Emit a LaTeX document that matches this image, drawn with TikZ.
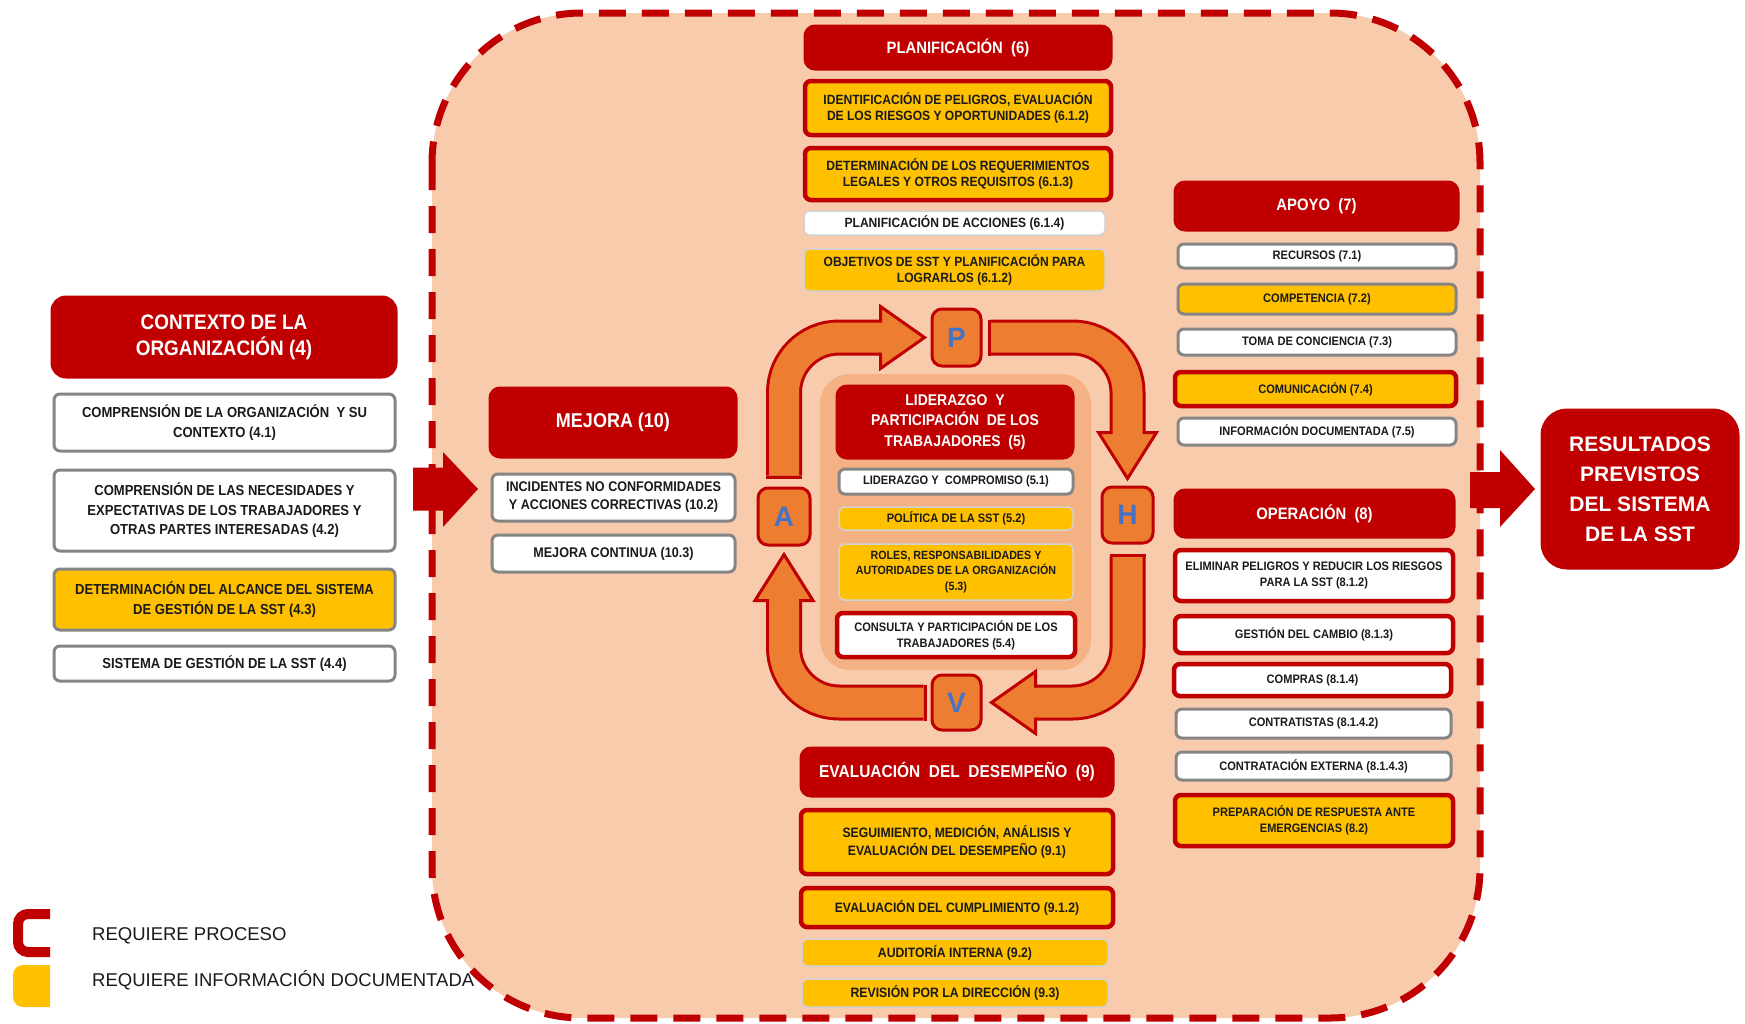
\documentclass[tikz,border=0pt]{standalone}
\usepackage{fontspec}
\setmainfont{Liberation Sans}
\newfontfamily\cnd[FakeStretch=0.9]{Liberation Sans}
\usetikzlibrary{calc}
\definecolor{cR}{HTML}{C00000}
\definecolor{cY}{HTML}{FFC000}
\definecolor{cO}{HTML}{ED7D31}
\definecolor{cPeach}{HTML}{F8CBAD}
\definecolor{cIn}{HTML}{F4B183}
\definecolor{cGrey}{HTML}{858585}
\definecolor{cLight}{HTML}{D2D2D2}
\definecolor{cBlue}{HTML}{4472C4}
\definecolor{cText}{HTML}{1A1A1A}
\newcommand\fs[2]{\fontsize{#1}{#2}\selectfont}
\newcommand\mybox[7]{\node[#2, minimum width={#5-#3-4}, minimum height={#6-#4-4}] (#1) at ({(#3+#5)/2},{(#4+#6)/2}) {#7};}
\tikzset{
  base/.style={rectangle, rounded corners=6pt, align=center, inner sep=0pt, text=cText, line width=3pt},
  hdr/.style={base, fill=cR, draw=cR, text=white, rounded corners=10pt},
  wg/.style={base, fill=white, draw=cGrey},
  yg/.style={base, fill=cY, draw=cGrey},
  wr/.style={base, fill=white, draw=cR, line width=4.5pt},
  yr/.style={base, fill=cY, draw=cR, line width=4.5pt},
  wl/.style={base, fill=white, draw=cLight, line width=1.5pt},
  yl/.style={base, fill=cY, draw=cLight, line width=1.5pt},
  pd/.style={base, fill=cO, draw=cR, line width=3pt, rounded corners=10pt, text=cBlue, font=\bfseries\fs{28}{30}},
  area/.style={rectangle, fill=cIn, rounded corners=30pt, inner sep=0pt},
  cyc/.style={draw=cR, line width=3pt, double=cO, double distance=30pt, rounded corners=55pt},
  hd/.style={fill=cO, draw=cR, line width=3pt, line join=miter},
  bigarrow/.style={fill=cR},
  fA/.style={font=\cnd\bfseries\fs{12.3}{16}},
  fB/.style={font=\cnd\bfseries\fs{13.4}{16.5}},
  fC/.style={font=\cnd\bfseries\fs{14.5}{19.5}},
  fM/.style={font=\cnd\bfseries\fs{14}{18}},
  fE/.style={font=\cnd\bfseries\fs{13.6}{18}},
  legend/.style={anchor=base west, inner sep=0pt, text=cText, font=\fs{18.5}{22}}
}
\begin{document}
\begin{tikzpicture}[x=1pt,y=-1pt]
\useasboundingbox (0,0) rectangle (1745,1023);
\fill[white] (0,0) rectangle (1745,1023);

% container
\draw[cR, fill=cPeach, line width=7pt, dash pattern=on 27pt off 16pt, rounded corners=150pt] (432,13) rectangle (1480,1018);

% left column: contexto
\mybox{ctx}{hdr, rounded corners=14pt, font=\cnd\bfseries\fs{21}{26}}{50}{295}{398}{379}{CONTEXTO DE LA\\ORGANIZACIÓN (4)}
\mybox{c41}{wg, fC}{52}{392}{397}{453}{COMPRENSIÓN DE LA ORGANIZACIÓN \ Y SU\\CONTEXTO (4.1)}
\mybox{c42}{wg, fC}{52}{468}{397}{553}{COMPRENSIÓN DE LAS NECESIDADES Y\\EXPECTATIVAS DE LOS TRABAJADORES Y\\OTRAS PARTES INTERESADAS (4.2)}
\mybox{c43}{yg, fC}{52}{567}{397}{632}{DETERMINACIÓN DEL ALCANCE DEL SISTEMA\\DE GESTIÓN DE LA SST (4.3)}
\mybox{c44}{wg, fC}{52}{644}{397}{683}{SISTEMA DE GESTIÓN DE LA SST (4.4)}

% mejora
\mybox{mej}{hdr, font=\cnd\bfseries\fs{20}{24}}{488}{386}{738}{459}{MEJORA (10)}
\mybox{m102}{wg, fM}{490}{472}{737}{523}{INCIDENTES NO CONFORMIDADES\\Y ACCIONES CORRECTIVAS (10.2)}
\mybox{m103}{wg, fM}{490}{533}{737}{574}{MEJORA CONTINUA (10.3)}

% planificacion
\mybox{pla}{hdr, font=\cnd\bfseries\fs{16.5}{20}}{803}{24}{1113}{71}{PLANIFICACIÓN \ (6)}
\mybox{p612}{yr, fB}{803}{79}{1113}{137}{IDENTIFICACIÓN DE PELIGROS, EVALUACIÓN\\DE LOS RIESGOS Y OPORTUNIDADES (6.1.2)}
\mybox{p613}{yr, fB}{803}{146}{1113}{202}{DETERMINACIÓN DE LOS REQUERIMIENTOS\\LEGALES Y OTROS REQUISITOS (6.1.3)}
\mybox{p614}{wl, fB}{802}{209}{1107}{237}{PLANIFICACIÓN DE ACCIONES (6.1.4)}
\mybox{pobj}{yl, fB}{802}{247}{1107}{293}{OBJETIVOS DE SST Y PLANIFICACIÓN PARA\\LOGRARLOS (6.1.2)}

% liderazgo area
\mybox{larea}{area}{818}{372}{1093}{672}{}
\mybox{lid}{hdr, font=\cnd\bfseries\fs{15.5}{20.5}}{835}{384}{1075}{460}{LIDERAZGO \ Y\\PARTICIPACIÓN \ DE LOS\\TRABAJADORES \ (5)}
\mybox{l51}{wg, fA}{837}{467}{1075}{496}{LIDERAZGO Y \ COMPROMISO (5.1)}
\mybox{l52}{yl, fA}{837}{505}{1075}{532}{POLÍTICA DE LA SST (5.2)}
\mybox{l53}{yl, font=\cnd\bfseries\fs{11.9}{15.5}}{837}{542}{1075}{602}{ROLES, RESPONSABILIDADES Y\\AUTORIDADES DE LA ORGANIZACIÓN\\(5.3)}
\mybox{l54}{wr, fA}{835}{611}{1077}{659}{CONSULTA Y PARTICIPACIÓN DE LOS\\TRABAJADORES (5.4)}

% PHVA boxes
\mybox{P}{pd}{930}{307}{983}{368}{P}
\mybox{A}{pd}{756}{486}{812}{547}{A}
\mybox{H}{pd}{1100}{485}{1155}{545}{H}
\mybox{V}{pd}{930}{673}{983}{732}{V}

% cycle arrows
\coordinate (a1s) at ($(A.north)+(0,-11)$);
\coordinate (a1t) at ($(P.west)+(-6,0)$);
\coordinate (a1b) at ($(a1t)+(-44,0)$);
\draw[cyc] (a1s) |- ($(a1b)+(2,0)$);
\draw[cR, line width=3pt] ($(a1s)+(-18,1.5)$) -- ($(a1s)+(18,1.5)$);
\filldraw[hd] ($(a1b)+(0,-15)$) -- ($(a1b)+(0,-31)$) -- (a1t) -- ($(a1b)+(0,31)$) -- ($(a1b)+(0,15)$);

\coordinate (a2s) at ($(P.east)+(8,0)$);
\coordinate (a2t) at ($(H.north)+(0,-7)$);
\coordinate (a2b) at ($(a2t)+(0,-46)$);
\draw[cyc] (a2s) -| ($(a2b)+(0,2)$);
\draw[cR, line width=3pt] ($(a2s)+(-1.5,-18)$) -- ($(a2s)+(-1.5,18)$);
\filldraw[hd] ($(a2b)+(-15,0)$) -- ($(a2b)+(-29,0)$) -- (a2t) -- ($(a2b)+(29,0)$) -- ($(a2b)+(15,0)$);

\coordinate (a3s) at ($(H.south)+(0,12)$);
\coordinate (a3t) at ($(V.east)+(9,0)$);
\coordinate (a3b) at ($(a3t)+(44,0)$);
\draw[cyc] (a3s) |- ($(a3b)+(-2,0)$);
\draw[cR, line width=3pt] ($(a3s)+(-18,-1.5)$) -- ($(a3s)+(18,-1.5)$);
\filldraw[hd] ($(a3b)+(0,-15)$) -- ($(a3b)+(0,-31)$) -- (a3t) -- ($(a3b)+(0,31)$) -- ($(a3b)+(0,15)$);

\coordinate (a4s) at ($(V.west)+(-7,0)$);
\coordinate (a4t) at ($(A.south)+(0,8)$);
\coordinate (a4b) at ($(a4t)+(0,46)$);
\draw[cyc] (a4s) -| ($(a4b)+(0,-2)$);
\draw[cR, line width=3pt] ($(a4s)+(1.5,-18)$) -- ($(a4s)+(1.5,18)$);
\filldraw[hd] ($(a4b)+(-15,0)$) -- ($(a4b)+(-29,0)$) -- (a4t) -- ($(a4b)+(29,0)$) -- ($(a4b)+(15,0)$);

% evaluacion
\mybox{eva}{hdr, font=\cnd\bfseries\fs{17.2}{20}}{799}{746}{1115}{798}{EVALUACIÓN \ DEL \ DESEMPEÑO \ (9)}
\mybox{e91}{yr, fE}{799}{808}{1115}{876}{SEGUIMIENTO, MEDICIÓN, ANÁLISIS Y\\EVALUACIÓN DEL DESEMPEÑO (9.1)}
\mybox{e912}{yr, fE}{799}{886}{1115}{929}{EVALUACIÓN DEL CUMPLIMIENTO (9.1.2)}
\mybox{e92}{yl, fE}{800}{937}{1110}{968}{AUDITORÍA INTERNA (9.2)}
\mybox{e93}{yl, fE}{800}{977}{1110}{1009}{REVISIÓN POR LA DIRECCIÓN (9.3)}

% apoyo
\mybox{apo}{hdr, font=\cnd\bfseries\fs{16.5}{20}}{1173}{180}{1460}{232}{APOYO \ (7)}
\mybox{a71}{wg, fA}{1176}{242}{1458}{270}{RECURSOS (7.1)}
\mybox{a72}{yg, fA}{1176}{282}{1458}{316}{COMPETENCIA (7.2)}
\mybox{a73}{wg, fA}{1176}{327}{1458}{357}{TOMA DE CONCIENCIA (7.3)}
\mybox{a74}{yr, fA}{1173}{370}{1458}{408}{COMUNICACIÓN (7.4)}
\mybox{a75}{wg, fA}{1176}{416}{1458}{447}{INFORMACIÓN DOCUMENTADA (7.5)}

% operacion
\mybox{ope}{hdr, font=\cnd\bfseries\fs{16.5}{20}}{1173}{488}{1456}{539}{OPERACIÓN \ (8)}
\mybox{o812}{wr, fA}{1173}{548}{1455}{603}{ELIMINAR PELIGROS Y REDUCIR LOS RIESGOS\\PARA LA SST (8.1.2)}
\mybox{o813}{wr, fA}{1173}{614}{1455}{655}{GESTIÓN DEL CAMBIO (8.1.3)}
\mybox{o814}{wr, fA}{1172}{662}{1453}{698}{COMPRAS (8.1.4)}
\mybox{o8142}{wg, fA}{1174}{707}{1453}{740}{CONTRATISTAS (8.1.4.2)}
\mybox{o8143}{wg, fA}{1174}{750}{1453}{782}{CONTRATACIÓN EXTERNA (8.1.4.3)}
\mybox{o82}{yr, fA}{1173}{793}{1455}{848}{PREPARACIÓN DE RESPUESTA ANTE\\EMERGENCIAS (8.2)}

% resultados
\mybox{res}{hdr, rounded corners=25pt, font=\bfseries\fs{21}{30}}{1540}{408}{1740}{570}{RESULTADOS\\PREVISTOS\\DEL SISTEMA\\DE LA SST}

% big red arrows
\coordinate (la) at (413,489);
\fill[bigarrow] ($(la)+(0,-21.5)$) -- ($(la)+(30,-21.5)$) -- ($(la)+(30,-37)$) -- ($(la)+(65,0)$) -- ($(la)+(30,38)$) -- ($(la)+(30,21.5)$) -- ($(la)+(0,21.5)$) -- cycle;
\coordinate (ra) at (1470,489);
\fill[bigarrow] ($(ra)+(0,-17)$) -- ($(ra)+(30,-17)$) -- ($(ra)+(30,-39)$) -- ($(ra)+(65,0)$) -- ($(ra)+(30,38)$) -- ($(ra)+(30,19)$) -- ($(ra)+(0,19)$) -- cycle;

% legend
\begin{scope}
\clip (0,900) rectangle (50,1020);
\draw[cR, line width=10pt, rounded corners=10pt] (18,914) rectangle (90,952);
\fill[cY, rounded corners=10pt] (13,965) rectangle (90,1007);
\end{scope}
\node[legend] (lg1) at (92,940) {REQUIERE PROCESO};
\node[legend] (lg2) at (92,986) {REQUIERE INFORMACIÓN DOCUMENTADA};
\end{tikzpicture}
\end{document}
